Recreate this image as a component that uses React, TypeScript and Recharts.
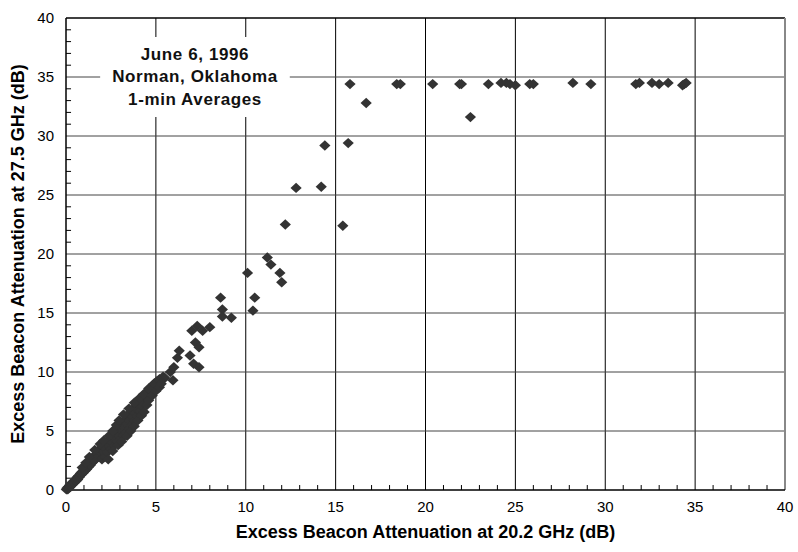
import {
  ScatterChart,
  Scatter,
  XAxis,
  YAxis,
  ReferenceArea,
  ReferenceLine,
} from 'recharts';

// dense band of 1-min averages at low attenuation
const clusterPoints: [number, number][] = [
  [0.02, 0.05], [0.05, 0.15], [0.1, 0.05], [0.12, 0.25], [0.18, 0.2], [0.2, 0.4],
  [0.25, 0.3], [0.3, 0.55], [0.35, 0.45], [0.4, 0.7], [0.45, 0.6], [0.5, 0.85],
  [0.55, 0.75], [0.6, 1.05], [0.65, 0.9], [0.7, 1.2], [0.75, 1.1], [0.8, 1.4],
  [0.85, 1.3], [0.9, 1.55], [0.95, 1.45], [1.0, 1.75], [1.05, 1.6], [1.1, 1.9],
  [1.15, 1.75], [1.2, 2.1], [1.25, 1.95], [1.3, 2.3], [1.35, 2.1], [1.4, 2.5],
  [1.45, 2.3], [1.5, 2.7], [1.55, 2.45], [1.6, 2.9], [1.65, 2.6], [1.7, 3.1],
  [1.75, 2.8], [1.8, 3.3], [1.85, 2.9], [1.9, 3.5], [1.95, 3.1], [2.0, 2.6],
  [2.05, 3.3], [2.1, 3.7], [2.15, 2.8], [2.2, 3.5], [2.25, 3.95], [2.3, 3.2],
  [2.35, 4.1], [2.4, 3.7], [2.45, 4.3], [2.5, 3.5], [2.55, 4.5], [2.6, 4.0],
  [2.65, 4.7], [2.7, 3.8], [2.75, 4.4], [2.8, 4.9], [2.85, 4.1], [2.9, 5.1],
  [2.95, 4.6], [3.0, 5.4], [3.05, 4.3], [3.1, 5.0], [3.15, 5.7], [3.2, 4.6],
  [3.25, 5.3], [3.3, 6.0], [3.35, 4.9], [3.4, 5.6], [3.45, 6.3], [3.5, 5.2],
  [3.55, 5.9], [3.6, 6.6], [3.65, 5.5], [3.7, 6.2], [3.75, 6.9], [3.8, 5.9],
  [3.85, 6.5], [3.9, 7.2], [3.95, 6.3], [4.0, 6.8], [4.05, 7.4], [4.1, 6.7],
  [4.15, 7.1], [4.2, 7.7], [4.25, 7.1], [4.3, 7.4], [4.35, 8.0], [4.4, 7.5],
  [4.45, 7.8], [4.5, 8.3], [4.55, 7.9], [4.6, 8.5], [4.7, 8.2], [4.75, 8.7],
  [4.85, 8.5], [4.9, 9.0], [5.0, 8.8], [5.05, 9.2], [5.15, 9.1], [5.2, 9.4],
  [5.3, 9.3], [5.4, 9.6], [5.5, 9.5],
];

// outer edges of the band (spread of 27.5 vs 20.2 GHz ratio)
const bandUpper: [number, number][] = [
  [0.9, 1.9], [1.1, 2.3], [1.3, 2.8], [1.6, 3.4], [1.9, 3.9], [2.1, 4.2],
  [2.4, 4.6], [2.6, 5.0], [2.8, 5.5], [2.95, 5.9], [3.2, 6.4], [3.5, 6.9],
  [3.8, 7.4], [4.1, 7.8], [4.3, 8.1], [4.6, 8.6], [4.9, 9.0], [5.2, 9.3],
];
const bandLower: [number, number][] = [
  [2.35, 2.6], [2.6, 3.3], [2.9, 3.8], [3.1, 4.1], [3.4, 4.6], [3.6, 5.0],
  [3.8, 5.4], [4.0, 5.9], [4.2, 6.3], [4.35, 6.6], [4.5, 7.2], [4.6, 7.6],
  [4.8, 8.0], [5.0, 8.4], [5.2, 8.7], [5.3, 9.0],
];

// scattered points on the way up
const risePoints: [number, number][] = [
  [5.8, 10.0], [5.95, 9.3], [6.0, 10.4], [6.2, 11.2], [6.3, 11.8], [6.9, 11.4],
  [7.1, 10.7], [7.4, 10.4], [7.2, 12.5], [7.4, 12.1], [7.0, 13.5], [7.3, 13.9],
  [7.6, 13.5], [8.0, 13.8], [8.6, 16.3], [8.7, 15.3], [8.7, 14.7], [9.2, 14.6],
  [10.1, 18.4], [10.5, 16.3], [10.4, 15.2], [11.2, 19.7], [11.4, 19.1], [11.9, 18.4],
  [12.0, 17.6], [12.2, 22.5], [12.8, 25.6], [14.2, 25.7], [14.4, 29.2], [15.7, 29.4],
  [15.4, 22.4], [16.7, 32.8], [22.5, 31.6],
];

// 27.5 GHz receiver saturates near 34.4 dB
const saturatedPoints: [number, number][] = [
  [15.8, 34.4], [18.4, 34.4], [18.6, 34.4], [20.4, 34.4], [21.9, 34.4], [22.0, 34.4],
  [23.5, 34.4], [24.2, 34.5], [24.5, 34.5], [24.7, 34.4], [25.0, 34.3], [25.8, 34.4],
  [26.0, 34.4], [28.2, 34.5], [29.2, 34.4], [31.7, 34.4], [31.9, 34.5], [32.6, 34.5],
  [33.0, 34.4], [33.5, 34.5], [34.3, 34.3], [34.4, 34.4], [34.5, 34.5],
];

const majorTicks = [0, 5, 10, 15, 20, 25, 30, 35, 40];
const gridLines = [5, 10, 15, 20, 25, 30, 35];
const minorTicks = [
  1, 2, 3, 4, 6, 7, 8, 9, 11, 12, 13, 14, 16, 17, 18, 19,
  21, 22, 23, 24, 26, 27, 28, 29, 31, 32, 33, 34, 36, 37, 38, 39,
];
const noteLines = ['June 6, 1996', 'Norman, Oklahoma', '1-min Averages'];

const data = [
  ...clusterPoints,
  ...bandUpper,
  ...bandLower,
  ...risePoints,
  ...saturatedPoints,
].map(([x, y]) => ({ x, y }));

const FONT = '"Liberation Sans", Arial, Helvetica, sans-serif';
// minor tick length in axis units (~5px each way)
const X_TICK_LEN = 0.42;
const Y_TICK_LEN = 0.28;

function Diamond(props: any) {
  const { cx, cy } = props;
  if (cx == null || cy == null) return null;
  return (
    <path
      d={`M${cx},${cy - 5.2}L${cx + 5.6},${cy}L${cx},${cy + 5.2}L${cx - 5.6},${cy}Z`}
      fill="#333333"
    />
  );
}

function NoteLabel(props: any) {
  const { viewBox } = props;
  if (!viewBox) return null;
  const cx = viewBox.x + viewBox.width / 2;
  return (
    <text
      textAnchor="middle"
      fontFamily={FONT}
      fontWeight="bold"
      fontSize={17}
      letterSpacing={0.6}
      fill="#111"
    >
      {noteLines.map((line, i) => (
        <tspan key={i} x={cx} y={viewBox.y + 23 + i * 22.5}>
          {line}
        </tspan>
      ))}
    </text>
  );
}

export default function App() {
  return (
    <div style={{ position: 'absolute', left: 0, top: 0, background: '#fff' }}>
      <ScatterChart
        width={798}
        height={552}
        margin={{ top: 18, right: 13, left: 0, bottom: 0 }}
      >
        {gridLines.map((v) => (
          <ReferenceLine key={`v${v}`} x={v} stroke="#000" strokeWidth={1} zIndex={-50} />
        ))}
        {gridLines.map((v) => (
          <ReferenceLine key={`h${v}`} y={v} stroke="#444" strokeWidth={1} zIndex={-50} />
        ))}
        {minorTicks.map((v) => (
          <ReferenceLine
            key={`mx${v}`}
            segment={[{ x: v, y: 0 }, { x: v, y: X_TICK_LEN }]}
            stroke="#000"
            strokeWidth={1}
            zIndex={-50}
          />
        ))}
        {minorTicks.map((v) => (
          <ReferenceLine
            key={`my${v}`}
            segment={[{ x: 0, y: v }, { x: Y_TICK_LEN, y: v }]}
            stroke="#000"
            strokeWidth={1}
            zIndex={-50}
          />
        ))}
        <ReferenceLine y={40} stroke="#000" strokeWidth={1.5} zIndex={-50} />
        <ReferenceLine x={40} stroke="#888" strokeWidth={2} zIndex={-50} />
        <ReferenceArea
          x1={1.9}
          x2={12.45}
          y1={31.6}
          y2={38.4}
          fill="#fff"
          fillOpacity={1}
          stroke="none"
          zIndex={-40}
          label={<NoteLabel />}
        />
        <XAxis
          type="number"
          dataKey="x"
          domain={[0, 40]}
          ticks={majorTicks}
          interval={0}
          height={62}
          tickLine={false}
          tickSize={6}
          tickMargin={5}
          axisLine={{ stroke: '#000', strokeWidth: 1.5 }}
          tick={{ fill: '#000', fontSize: 15, fontFamily: FONT }}
          label={{
            value: 'Excess Beacon Attenuation at 20.2 GHz (dB)',
            position: 'insideBottom',
            offset: 14,
            style: { fill: '#000', fontSize: 18, fontWeight: 'bold', fontFamily: FONT },
          }}
        />
        <YAxis
          type="number"
          dataKey="y"
          domain={[0, 40]}
          ticks={majorTicks}
          interval={0}
          width={66}
          tickLine={false}
          tickSize={6}
          tickMargin={6}
          axisLine={{ stroke: '#000', strokeWidth: 1.5 }}
          tick={{ fill: '#000', fontSize: 15, fontFamily: FONT }}
          label={{
            value: 'Excess Beacon Attenuation at 27.5 GHz (dB)',
            angle: -90,
            position: 'insideLeft',
            offset: 18,
            style: {
              textAnchor: 'middle',
              fill: '#000',
              fontSize: 18,
              fontWeight: 'bold',
              fontFamily: FONT,
            },
          }}
        />
        <Scatter data={data} shape={<Diamond />} isAnimationActive={false} />
      </ScatterChart>
    </div>
  );
}
